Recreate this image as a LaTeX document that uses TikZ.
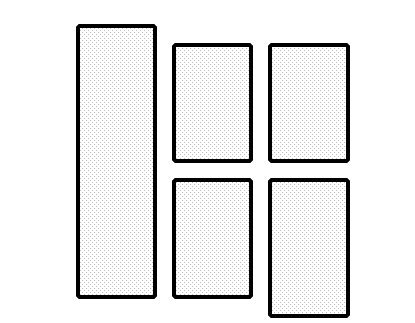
\documentclass[tikz,border=0pt]{standalone}
\usetikzlibrary{patterns}
\pgfdeclarepatternformonly{sparsedots}{\pgfqpoint{-1pt}{-1pt}}{\pgfqpoint{4pt}{4pt}}{\pgfqpoint{4pt}{4pt}}{%
  \pgfpathcircle{\pgfqpoint{0.5pt}{0.5pt}}{0.45pt}
  \pgfpathcircle{\pgfqpoint{2.5pt}{2.5pt}}{0.45pt}
  \pgfusepath{fill}}
\begin{document}
\begin{tikzpicture}[x=1pt,y=-1pt,
  panel/.style={draw=black, line width=3.6pt, rounded corners=1.5pt, inner sep=0pt,
    preaction={fill=white}, pattern=sparsedots, pattern color=gray!85}]
\useasboundingbox (0,0) rectangle (415,323);
\node[panel, minimum width=77pt, minimum height=271pt] (a) at (116.5,161.5) {};
\node[panel, minimum width=77pt, minimum height=116pt] (b) at (212.5,103) {};
\node[panel, minimum width=78pt, minimum height=116pt] (c) at (309,103) {};
\node[panel, minimum width=77pt, minimum height=117pt] (d) at (212.5,238.5) {};
\node[panel, minimum width=78pt, minimum height=136pt] (e) at (309,248) {};
\end{tikzpicture}
\end{document}
